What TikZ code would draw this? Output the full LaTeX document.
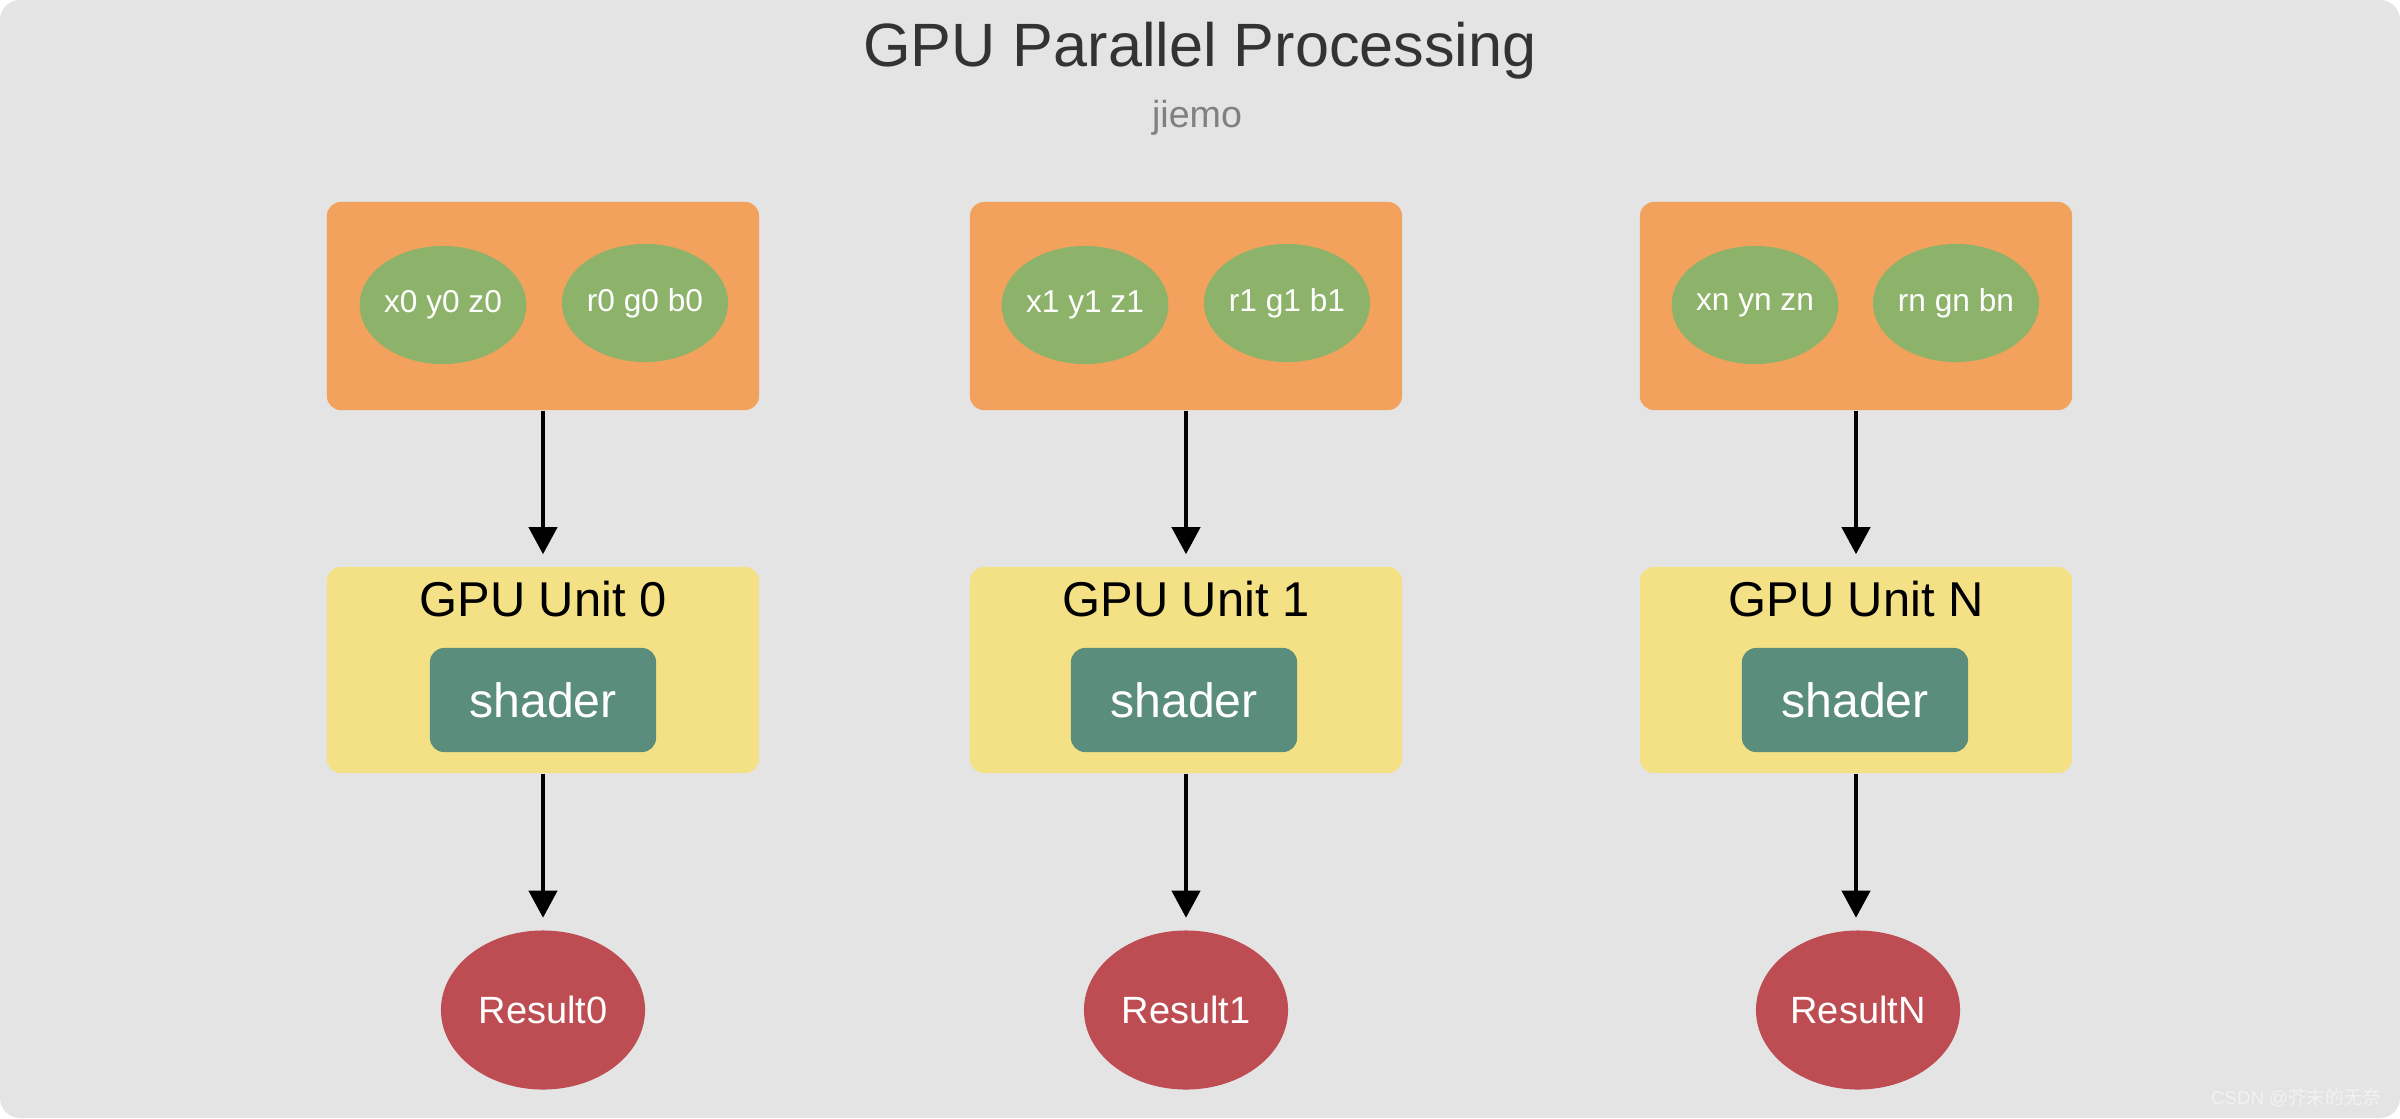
\documentclass[tikz,border=0pt]{standalone}
\usepackage{fontspec}
\setmainfont{Liberation Sans}
\newfontfamily\cjk{Noto Sans CJK SC}
\usetikzlibrary{shapes.geometric,arrows.meta}

\definecolor{canvas}{HTML}{E4E4E4}
\definecolor{inorange}{HTML}{F2A25C}
\definecolor{vtxgreen}{HTML}{8DB36B}
\definecolor{unityellow}{HTML}{F4E186}
\definecolor{shaderteal}{HTML}{5A8D7B}
\definecolor{resred}{HTML}{BD4D52}
\definecolor{titlegray}{HTML}{333333}
\definecolor{subgray}{HTML}{808080}
\definecolor{markgray}{HTML}{F2F2F2}

\begin{document}
\begin{tikzpicture}[x=0.01cm, y=-0.01cm]
    \tikzset{
      inbox/.style={rectangle, fill=inorange, rounded corners=0.14cm,
                    minimum width=4.32cm, minimum height=2.08cm},
      vtx/.style={ellipse, fill=vtxgreen, inner sep=0pt, text=white,
                  minimum width=1.66cm, minimum height=1.18cm,
                  font=\fontsize{9}{10}\selectfont},
      gpubox/.style={rectangle, fill=unityellow, rounded corners=0.14cm,
                     minimum width=4.32cm, minimum height=2.06cm},
      gpuname/.style={anchor=base, inner sep=0pt,
                      font=\fontsize{13.9}{16}\selectfont},
      shaderbox/.style={rectangle, fill=shaderteal, rounded corners=0.14cm,
                        minimum width=2.26cm, minimum height=1.04cm,
                        text=white, font=\fontsize{13.7}{16}\selectfont},
      resnode/.style={ellipse, fill=resred, inner sep=0pt, text=white,
                      minimum width=2.04cm, minimum height=1.59cm,
                      font=\fontsize{10.8}{12}\selectfont},
      flow/.style={-{Triangle[length=0.27cm, width=0.28cm]},
                   line width=0.04cm, shorten >=0.12cm}
    }

    \fill[white] (0,0) rectangle (2400,1118);
    \fill[canvas, rounded corners=0.2cm] (0,0) rectangle (2400,1118);
    \useasboundingbox (0,0) rectangle (2400,1118);

    \node[anchor=base, text=titlegray, font=\fontsize{17.4}{20}\selectfont]
      (title) at (1200,66) {GPU Parallel Processing};
    \node[anchor=base, text=subgray, font=\fontsize{10.7}{12}\selectfont]
      (sub) at (1197,127) {jiemo};

    % Unidad 0
    \node[inbox] (in0) at (543,306) {};
    \node[vtx] (xyz0) at (443,305) {x0 y0 z0};
    \node[vtx] (rgb0) at (645,303) {r0 g0 b0};
    \node[gpubox] (gpu0) at (543,670) {};
    \node[gpuname] (name0) at (543,616) {GPU Unit 0};
    \node[shaderbox] (sh0) at (543,700) {shader};
    \node[resnode] (res0) at (543,1010) {Result0};

    % Unidad 1
    \node[inbox] (in1) at (1186,306) {};
    \node[vtx] (xyz1) at (1085,305) {x1 y1 z1};
    \node[vtx] (rgb1) at (1287,303) {r1 g1 b1};
    \node[gpubox] (gpu1) at (1186,670) {};
    \node[gpuname] (name1) at (1186,616) {GPU Unit 1};
    \node[shaderbox] (sh1) at (1184,700) {shader};
    \node[resnode] (res1) at (1186,1010) {Result1};

    % Unidad N
    \node[inbox] (inN) at (1856,306) {};
    \node[vtx] (xyzN) at (1755,305) {xn yn zn};
    \node[vtx] (rgbN) at (1956,303) {rn gn bn};
    \node[gpubox] (gpuN) at (1856,670) {};
    \node[gpuname] (nameN) at (1856,616) {GPU Unit N};
    \node[shaderbox] (shN) at (1855,700) {shader};
    \node[resnode] (resN) at (1858,1010) {ResultN};

    % Flechas
    \draw[flow] (in0.south) -- (gpu0.north);
    \draw[flow] (gpu0.south) -- (res0.north);
    \draw[flow] (in1.south) -- (gpu1.north);
    \draw[flow] (gpu1.south) -- (res1.north);
    \draw[flow] (inN.south) -- (gpuN.north);
    \draw[flow] (gpuN.south) -- (resN.north -| gpuN.south);

    \node[anchor=base east, inner sep=0pt, text=markgray,
          font=\fontsize{5.3}{6}\selectfont]
      (mark) at (2382,1104) {CSDN @{\cjk 芥末的无奈}};
  \end{tikzpicture}
\end{document}
